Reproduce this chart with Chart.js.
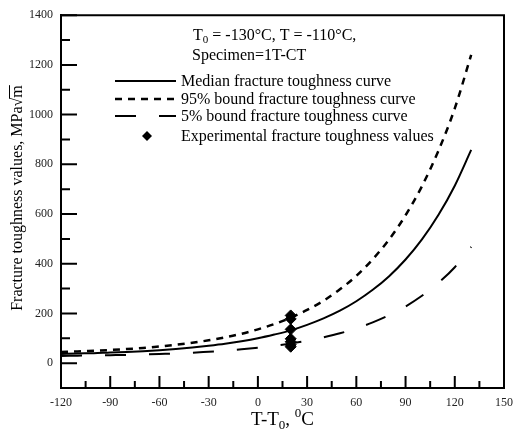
<!DOCTYPE html>
<html><head><meta charset="utf-8">
<script src="https://cdn.jsdelivr.net/npm/chart.js@4/dist/chart.umd.min.js"></script>
<style>html,body{margin:0;padding:0;background:#fff}</style>
</head><body>
<canvas id="c" width="521" height="430"></canvas>
<script>
// ---- data ----
const temps   = [-120,-110,-100,-90,-80,-70,-60,-50,-40,-30,-20,-10,0,10,20,30,40,50,60,70,80,90,100,110,120,130];
const median  = [37,39,40,43,45,48,52,57,63,70,78,88,100,115,132,154,180,211,249,295,350,417,498,596,714,858];
const upper95 = [45,47,50,53,57,61,67,74,82,92,104,118,136,157,183,214,251,297,351,418,498,595,712,854,1025,1240];
const lower5  = [29,30,31,32,33,35,37,39,42,46,50,56,62,69,79,90,104,120,140,164,193,228,271,323,386,468];
const expT    = [20,20,20,20,20,20,20];
const expK    = [192,178,136,98,86,74,66];
const xTickVals = [-120,-90,-60,-30,0,30,60,90,120,150];
const yTickVals = [0,200,400,600,800,1000,1200,1400];
const seriesLabels = ['Median fracture toughness curve','95% bound fracture toughness curve','5% bound fracture toughness curve','Experimental fracture toughness values'];

const SERIF = '"Liberation Serif","DejaVu Serif",serif';
const toXY = (xs, ys) => xs.map((x,i)=>({x:x, y:ys[i]}));

const framePlugin = {
  id:'frame',
  afterDraw(chart){
    const ctx = chart.ctx, a = chart.chartArea;
    const xs = chart.scales.x, ys = chart.scales.y;
    ctx.save();
    ctx.strokeStyle = '#000';
    // top & right border
    ctx.lineWidth = 2;
    ctx.beginPath();
    ctx.moveTo(a.left, a.top); ctx.lineTo(a.right, a.top); ctx.lineTo(a.right, a.bottom);
    ctx.stroke();
    // inward ticks
    ctx.lineWidth = 2;
    ctx.beginPath();
    for (let i=0;i<yTickVals.length;i++){
      const v = yTickVals[i], y = ys.getPixelForValue(v);
      ctx.moveTo(a.left, y); ctx.lineTo(a.left+16, y);
      const m = v - 100;
      if (m > ys.min){ const ym = ys.getPixelForValue(m); ctx.moveTo(a.left, ym); ctx.lineTo(a.left+9, ym); }
    }
    for (let i=0;i<xTickVals.length;i++){
      const v = xTickVals[i], x = xs.getPixelForValue(v);
      if (v > xs.min && v < xs.max){ ctx.moveTo(x, a.bottom); ctx.lineTo(x, a.bottom-12); }
      const m = v + 15;
      if (m < xs.max){ const xm = xs.getPixelForValue(m); ctx.moveTo(xm, a.bottom); ctx.lineTo(xm, a.bottom-7); }
    }
    ctx.stroke();

    // header text
    ctx.fillStyle = '#000';
    ctx.textBaseline = 'alphabetic';
    ctx.textAlign = 'left';
    const big = '16px '+SERIF, small = '11px '+SERIF, leg = '16px '+SERIF;
    let x = 193, y = 40;
    ctx.font = big; ctx.fillText('T', x, y); x += ctx.measureText('T').width;
    ctx.font = small; ctx.fillText('0', x, y+3); x += ctx.measureText('0').width;
    ctx.font = big; ctx.fillText(' = -130°C, T = -110°C,', x, y);
    ctx.fillText('Specimen=1T-CT', 192, 60);

    // legend rows
    const rows = [86, 104, 121, 141];
    const ds = chart.data.datasets;
    for (let i=0;i<4;i++){
      const ly = rows[i] - 5;
      const d = ds[i];
      if (i < 3){
        ctx.save();
        ctx.lineWidth = d.borderWidth; ctx.strokeStyle = d.borderColor;
        ctx.setLineDash(d.borderDash || []);
        ctx.beginPath(); ctx.moveTo(115, ly); ctx.lineTo(176, ly); ctx.stroke();
        ctx.restore();
      } else {
        ctx.beginPath();
        ctx.moveTo(147, ly-5); ctx.lineTo(152, ly); ctx.lineTo(147, ly+5); ctx.lineTo(142, ly); ctx.closePath();
        ctx.fill();
      }
      ctx.font = leg;
      ctx.fillText(seriesLabels[i], 181, rows[i]);
    }

    // x title
    const tBig = '19px '+SERIF, tSmall = '13px '+SERIF;
    const parts = [['T-T',tBig,0],['0',tSmall,4],[', ',tBig,0],['0',tSmall,-8],['C',tBig,0]];
    let w = 0;
    parts.forEach(p=>{ctx.font=p[1]; w += ctx.measureText(p[0]).width;});
    x = (a.left + a.right)/2 - w/2; y = 425;
    parts.forEach(p=>{ctx.font=p[1]; ctx.fillText(p[0], x, y+p[2]); x += ctx.measureText(p[0]).width;});

    // y title
    ctx.save();
    ctx.translate(22, 198);
    ctx.rotate(-Math.PI/2);
    ctx.font = '16px '+SERIF;
    const s1 = 'Fracture toughness values, MPa√', s2 = 'm';
    const w1 = ctx.measureText(s1).width, w2 = ctx.measureText(s2).width;
    const x0 = -(w1+w2)/2;
    ctx.fillText(s1, x0, 0);
    ctx.fillText(s2, x0+w1, 0);
    ctx.lineWidth = 1;
    ctx.beginPath(); ctx.moveTo(x0+w1-1, -12.5); ctx.lineTo(x0+w1+w2, -12.5); ctx.stroke();
    ctx.restore();

    ctx.restore();
  }
};

new Chart(document.getElementById('c'), {
  type:'scatter',
  data:{ datasets:[
    {label:seriesLabels[0], data:toXY(temps, median), showLine:true, borderColor:'#000', borderWidth:2, pointRadius:0, cubicInterpolationMode:'monotone', fill:false},
    {label:seriesLabels[1], data:toXY(temps, upper95), showLine:true, borderColor:'#000', borderWidth:2.5, borderDash:[7,6], pointRadius:0, cubicInterpolationMode:'monotone', fill:false},
    {label:seriesLabels[2], data:toXY(temps, lower5), showLine:true, borderColor:'#000', borderWidth:2, borderDash:[21,23], pointRadius:0, cubicInterpolationMode:'monotone', fill:false},
    {label:seriesLabels[3], data:toXY(expT, expK), showLine:false, pointStyle:'rectRot', pointRadius:5.5, backgroundColor:'#000', borderColor:'#000', borderWidth:1}
  ]},
  options:{
    responsive:false, animation:false, devicePixelRatio:1,
    layout:{padding:{top:14, right:10, left:0, bottom:0}},
    plugins:{legend:{display:false}, tooltip:{enabled:false}},
    scales:{
      x:{type:'linear', min:-120, max:150,
         afterBuildTicks:s=>{s.ticks = xTickVals.map(v=>({value:v}));},
         afterFit:s=>{s.height = 42;},
         grid:{display:false, drawTicks:false},
         border:{display:true, color:'#000', width:2},
         ticks:{padding:8, color:'#222', font:{family:SERIF, size:12}, maxRotation:0, callback:v=>String(v)}},
      y:{type:'linear', min:-100, max:1400,
         afterBuildTicks:s=>{s.ticks = yTickVals.map(v=>({value:v}));},
         afterFit:s=>{s.width = 61;},
         grid:{display:false, drawTicks:false},
         border:{display:true, color:'#000', width:2},
         ticks:{padding:8, color:'#222', font:{family:SERIF, size:12}, callback:v=>String(v)}}
    }
  },
  plugins:[framePlugin]
});
</script>
</body></html>
